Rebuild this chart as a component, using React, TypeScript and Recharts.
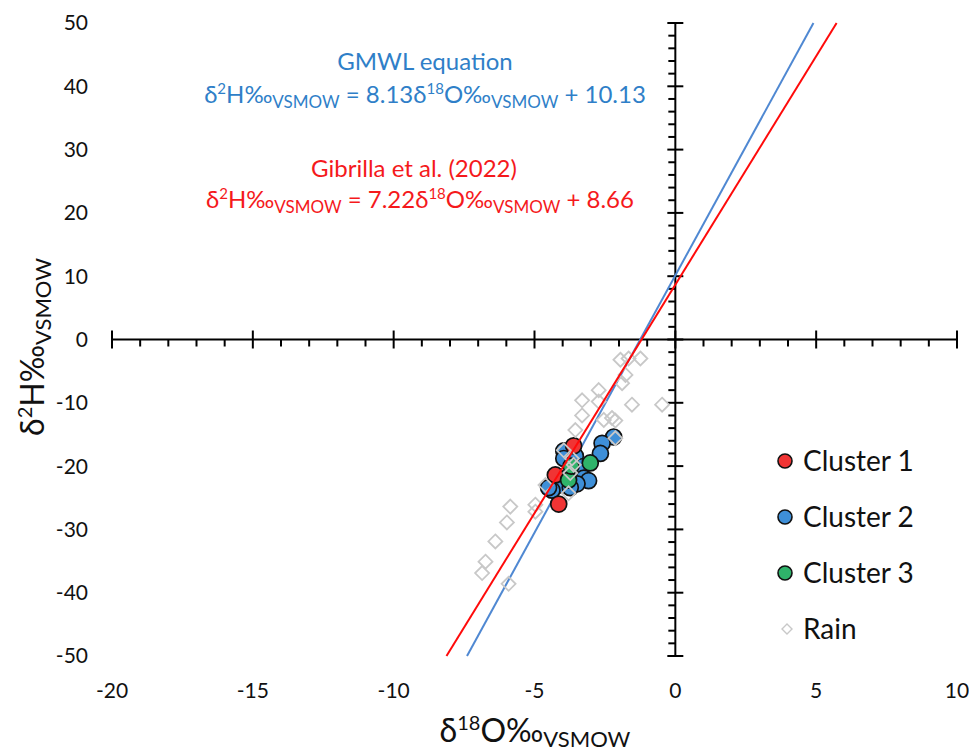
import { Scatter, ScatterChart, XAxis, YAxis, ReferenceLine, ReferenceDot } from "recharts";

const xTicks = [-20, -15, -10, -5, 0, 5, 10];
const yTicks = [-50, -40, -30, -20, -10, 0, 10, 20, 30, 40, 50];
const xMinorTicks = [
  -19, -18, -17, -16, -14, -13, -12, -11, -9, -8, -7, -6, -4, -3, -2, -1, 1, 2, 3, 4, 6, 7, 8, 9
];
const yMinorTicks = [
  -48, -46, -44, -42, -38, -36, -34, -32, -28, -26, -24, -22, -18, -16, -14, -12, -8, -6, -4, -2,
  2, 4, 6, 8, 12, 14, 16, 18, 22, 24, 26, 28, 32, 34, 36, 38, 42, 44, 46, 48
];

const cluster1 = [
  { x: -3.61, y: -16.8 },
  { x: -4.26, y: -21.4 },
  { x: -4.14, y: -26.0 }
];

const cluster2 = [
  { x: -2.19, y: -15.4 },
  { x: -2.6, y: -16.4 },
  { x: -2.66, y: -18.0 },
  { x: -3.96, y: -17.6 },
  { x: -3.96, y: -18.8 },
  { x: -3.55, y: -18.4 },
  { x: -3.31, y: -20.1 },
  { x: -3.25, y: -21.9 },
  { x: -3.08, y: -22.3 },
  { x: -3.49, y: -22.8 },
  { x: -3.96, y: -22.0 },
  { x: -4.08, y: -23.0 },
  { x: -3.73, y: -23.4 },
  { x: -4.38, y: -23.8 },
  { x: -4.5, y: -23.4 }
];

const cluster3 = [
  { x: -3.02, y: -19.5 },
  { x: -3.79, y: -22.2 },
  { x: -3.7, y: -20.0 }
];

const rain = [
  { x: -1.95, y: -3.2 },
  { x: -1.66, y: -3.0 },
  { x: -1.24, y: -3.0 },
  { x: -1.77, y: -5.6 },
  { x: -1.89, y: -6.9 },
  { x: -2.72, y: -8.0 },
  { x: -3.31, y: -9.6 },
  { x: -2.72, y: -9.8 },
  { x: -1.54, y: -10.3 },
  { x: -0.47, y: -10.3 },
  { x: -3.31, y: -12.0 },
  { x: -2.54, y: -12.7 },
  { x: -2.25, y: -12.4 },
  { x: -2.13, y: -12.8 },
  { x: -3.55, y: -14.3 },
  { x: -2.13, y: -15.6 },
  { x: -3.96, y: -17.5 },
  { x: -3.67, y: -18.8 },
  { x: -3.61, y: -19.8 },
  { x: -3.73, y: -21.1 },
  { x: -4.61, y: -23.0 },
  { x: -3.79, y: -24.3 },
  { x: -4.97, y: -26.1 },
  { x: -5.86, y: -26.4 },
  { x: -4.97, y: -27.2 },
  { x: -5.98, y: -28.9 },
  { x: -6.39, y: -31.9 },
  { x: -6.74, y: -35.1 },
  { x: -6.86, y: -36.9 },
  { x: -5.92, y: -38.6 }
];

// regression lines, drawn between y = -50 and y = 50
const gmwl = { slope: 8.13, intercept: 10.13 };
const gibrilla = { slope: 7.22, intercept: 8.66 };

function lineEnds(eq: { slope: number; intercept: number }) {
  return [-50, 50].map((y) => ({ x: (y - eq.intercept) / eq.slope, y }));
}

const RED = "#f03434";
const BLUE = "#3e8fd8";
const GREEN = "#2fb36a";
const GREY = "#c8c8c8";
const FONT = "Lato, 'Open Sans', sans-serif";

const dot = (fill: string) => (props: any) =>
  <circle cx={props.cx} cy={props.cy} r={8} fill={fill} stroke="#111" strokeWidth={1.7} />;

const diamond = (props: any) => {
  const { cx, cy } = props;
  const h = 7;
  return (
    <path
      d={`M${cx},${cy - h}L${cx + h},${cy}L${cx},${cy + h}L${cx - h},${cy}Z`}
      fill="none"
      stroke={GREY}
      strokeWidth={1.8}
    />
  );
};

const noShape = () => <g />;

const xMajor = (props: any) => <line x1={props.cx} x2={props.cx} y1={props.cy - 9} y2={props.cy + 9} stroke="#000" strokeWidth={2} />;
const xMinor = (props: any) => <line x1={props.cx} x2={props.cx} y1={props.cy} y2={props.cy + 7} stroke="#000" strokeWidth={2} />;
const yMajor = (props: any) => <line x1={props.cx - 8} x2={props.cx + 8} y1={props.cy} y2={props.cy} stroke="#000" strokeWidth={2} />;
const yMinor = (props: any) => <line x1={props.cx - 7} x2={props.cx} y1={props.cy} y2={props.cy} stroke="#000" strokeWidth={2} />;

const legendItems = [
  { name: "Cluster 1", color: RED, kind: "circle" },
  { name: "Cluster 2", color: BLUE, kind: "circle" },
  { name: "Cluster 3", color: GREEN, kind: "circle" },
  { name: "Rain", color: GREY, kind: "diamond" }
];

function Equation({ x, y, color, coef, intercept }: { x: number; y: number; color: string; coef: string; intercept: string }) {
  return (
    <text x={x} y={y} textAnchor="middle" fill={color} fontSize={24}>
      δ<tspan dy={-9} fontSize={15}>2</tspan>
      <tspan dy={9}>H‰</tspan>
      <tspan dy={5} fontSize={17}>VSMOW</tspan>
      <tspan dy={-5}>{` = ${coef}δ`}</tspan>
      <tspan dy={-9} fontSize={15}>18</tspan>
      <tspan dy={9}>O‰</tspan>
      <tspan dy={5} fontSize={17}>VSMOW</tspan>
      <tspan dy={-5}>{`  + ${intercept}`}</tspan>
    </text>
  );
}

export default function App() {
  return (
    <div style={{ position: "absolute", left: 0, top: 0, width: 969, height: 754, background: "#fff", fontFamily: FONT }}>
      <ScatterChart width={969} height={754} margin={{ top: 23, right: 12, bottom: 0, left: 0 }}>
        <XAxis
          type="number"
          dataKey="x"
          domain={[-20, 10]}
          ticks={xTicks}
          axisLine={false}
          tickLine={false}
          tickMargin={21}
          height={98}
          tick={{ fontSize: 21, fill: "#111", fontFamily: FONT }}
        />
        <YAxis
          type="number"
          dataKey="y"
          domain={[-50, 50]}
          ticks={yTicks}
          axisLine={false}
          tickLine={false}
          tickMargin={18}
          width={112}
          tick={{ fontSize: 21, fill: "#111", fontFamily: FONT }}
        />
        <ReferenceLine y={0} stroke="#000" strokeWidth={2} />
        <ReferenceLine x={0} stroke="#000" strokeWidth={2} />
        {xTicks.map((t) => (
          <ReferenceDot key={`xM${t}`} x={t} y={0} r={1} shape={xMajor} />
        ))}
        {xMinorTicks.map((t) => (
          <ReferenceDot key={`xm${t}`} x={t} y={0} r={1} shape={xMinor} />
        ))}
        {yTicks.map((t) => (
          <ReferenceDot key={`yM${t}`} x={0} y={t} r={1} shape={yMajor} />
        ))}
        {yMinorTicks.map((t) => (
          <ReferenceDot key={`ym${t}`} x={0} y={t} r={1} shape={yMinor} />
        ))}
        <Scatter name="GMWL" data={lineEnds(gmwl)} line={{ stroke: "#4f88d2", strokeWidth: 2 }} shape={noShape} isAnimationActive={false} />
        <Scatter name="Cluster 2" data={cluster2} shape={dot(BLUE)} isAnimationActive={false} />
        <Scatter name="Cluster 1" data={cluster1} shape={dot(RED)} isAnimationActive={false} />
        <Scatter name="Cluster 3" data={cluster3} shape={dot(GREEN)} isAnimationActive={false} />
        <Scatter name="Rain" data={rain} shape={diamond} isAnimationActive={false} />
        <Scatter name="Gibrilla" data={lineEnds(gibrilla)} line={{ stroke: "#ff0a0a", strokeWidth: 2 }} shape={noShape} isAnimationActive={false} />
      </ScatterChart>

      <svg width={969} height={754} style={{ position: "absolute", left: 0, top: 0, pointerEvents: "none" }} fontFamily={FONT}>
        <text x={425} y={70} textAnchor="middle" fill="#2f7fc8" fontSize={24}>GMWL equation</text>
        <Equation x={425} y={103} color="#2f7fc8" coef="8.13" intercept="10.13" />
        <text x={414} y={177} textAnchor="middle" fill="#f5191c" fontSize={24}>Gibrilla et al. (2022)</text>
        <Equation x={420} y={208} color="#f5191c" coef="7.22" intercept="8.66" />

        <text transform="translate(44,347) rotate(-90)" textAnchor="middle" fontSize={32} fill="#111">
          δ<tspan dy={-12} fontSize={20}>2</tspan>
          <tspan dy={12}>H‰</tspan>
          <tspan dy={7} fontSize={22}>VSMOW</tspan>
        </text>
        <text x={535} y={742} textAnchor="middle" fontSize={32} fill="#111">
          δ<tspan dy={-12} fontSize={20}>18</tspan>
          <tspan dy={12}>O‰</tspan>
          <tspan dy={5} fontSize={22}>VSMOW</tspan>
        </text>

        {legendItems.map((item, i) => {
          const cy = 461 + i * 56;
          return (
            <g key={item.name}>
              {item.kind === "circle" ? (
                <circle cx={785} cy={cy} r={7} fill={item.color} stroke="#111" strokeWidth={1.6} />
              ) : (
                <path d={`M787,${cy - 5}L792,${cy}L787,${cy + 5}L782,${cy}Z`} fill="none" stroke={item.color} strokeWidth={1.4} />
              )}
              <text x={803} y={cy + 10} fontSize={28} fill="#111">{item.name}</text>
            </g>
          );
        })}
      </svg>
    </div>
  );
}
